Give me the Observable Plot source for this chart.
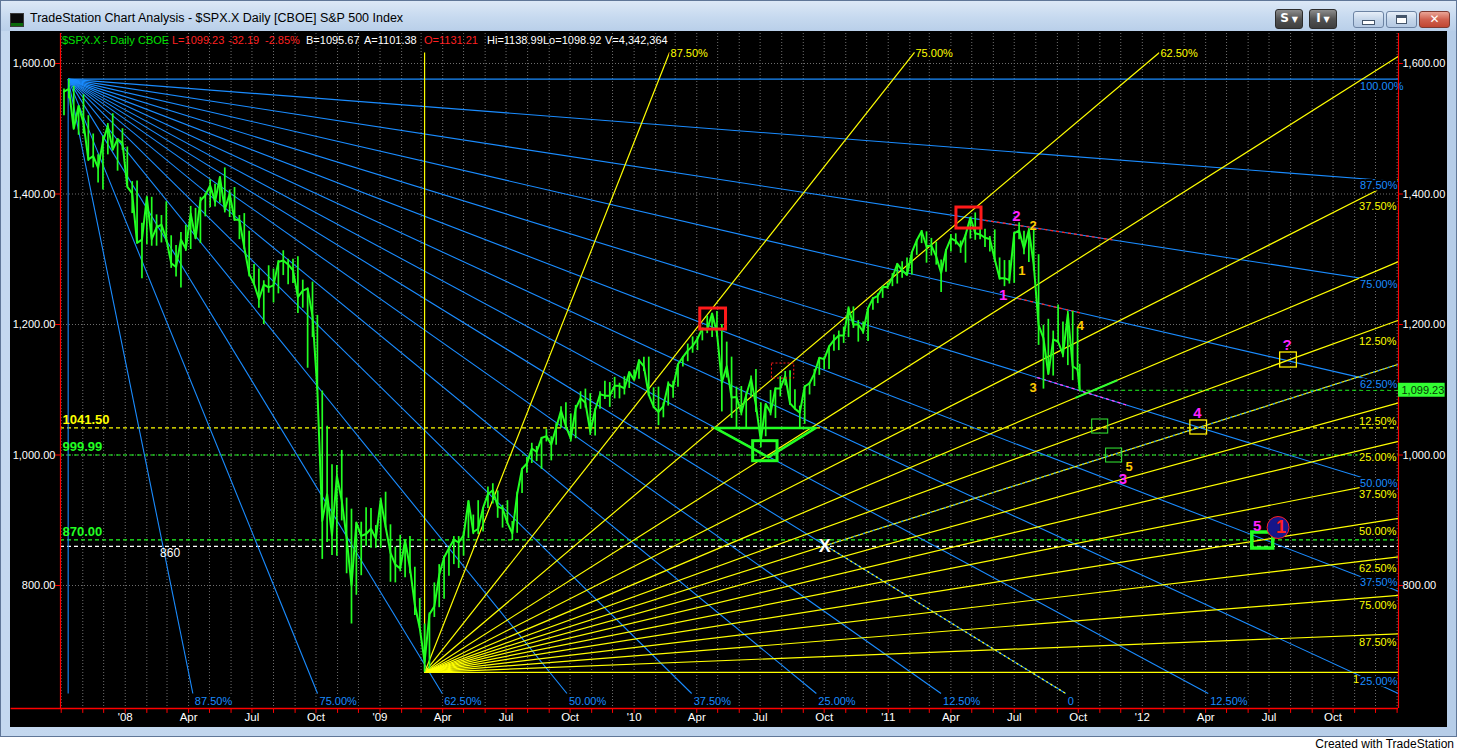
<!DOCTYPE html>
<html>
<head>
<meta charset="utf-8">
<script src="https://cdn.jsdelivr.net/npm/d3@7"></script>
<script src="https://cdn.jsdelivr.net/npm/@observablehq/plot@0.6"></script>
<style>
html,body{margin:0;padding:0;}
body{width:1457px;height:750px;background:#fff;overflow:hidden;position:relative;font-family:"Liberation Sans",Arial,sans-serif;}
#win{position:absolute;left:0;top:0;width:1457px;height:737px;background:linear-gradient(90deg,#c4d8ef,#b6cde8);box-sizing:border-box;border:1px solid #5f7697;}
#titlebar{position:absolute;left:0;top:0;width:1455px;height:30px;background:linear-gradient(#dce8f6,#c6d9ef 55%,#b9cfe9);}
#icon{position:absolute;left:9px;top:12px;width:12px;height:12px;background:#0b0b0b;border:1px solid #3a3a3a;box-shadow:inset 0 -3px 0 #0a6a0a;}
#title{position:absolute;left:29px;top:10px;font-size:12.5px;color:#000;white-space:nowrap;}
.btn{position:absolute;box-sizing:border-box;border-radius:3px;font-family:"DejaVu Sans",sans-serif;font-weight:bold;text-align:center;}
.dark{background:linear-gradient(#8c8c8c,#525252 50%,#3e3e3e);border:1px solid #2d2d2d;color:#fff;font-size:12px;line-height:17px;height:20px;top:8px;}
.light{background:linear-gradient(#e6eef8,#c5d6ea 50%,#b4c8e2);border:1px solid #6c83a3;height:17px;top:10px;width:31px;}
#close{position:absolute;left:1418px;top:10px;width:31px;height:17px;box-sizing:border-box;border-radius:3px;border:1px solid #7d3a32;background:linear-gradient(#eaa596,#d0614f 50%,#c04632);color:#fff;font:bold 12px "DejaVu Sans",sans-serif;line-height:15px;text-align:center;}
#chart{position:absolute;left:9px;top:30px;width:1437px;height:696px;background:#000;}
.hd{position:absolute;top:34px;font-size:11px;line-height:12px;white-space:nowrap;}
#credit{position:absolute;right:3px;top:737px;font-size:12px;color:#000;}
</style>
</head>
<body>
<div id="win">
  <div id="titlebar">
    <div id="icon"></div>
    <div id="title">TradeStation Chart Analysis - $SPX.X Daily [CBOE] S&amp;P 500 Index</div>
    <div class="btn dark" style="left:1274px;width:28px;">S<span style="font-size:8px;"> ▼</span></div>
    <div class="btn dark" style="left:1308px;width:28px;">I<span style="font-size:8px;"> ▼</span></div>
    <div class="btn light" style="left:1352px;"><div style="margin:8px auto 0;width:11px;height:3px;background:#fff;border:1px solid #44556b;"></div></div>
    <div class="btn light" style="left:1385px;"><div style="margin:3px auto 0;width:9px;height:7px;border:1px solid #44556b;background:#fff;box-shadow:inset 0 2px 0 #44556b;"></div></div>
    <div id="close">✕</div>
  </div>
  <div id="chart"></div>
</div>
<div id="hdr"></div>
<div id="credit">Created with TradeStation</div>
<script>
// ---------------- data ----------------
// weekly S&P 500 bars (Friday of each week, last bar 2011-10-03)
const closes = [1557,1561,1500,1535,1509,1453,1458,1440,1481,1504,1468,1484,1478,
1411,1401,1325,1330,1395,1331,1349,1353,1331,1294,1288,1330,1316,1370,1332,1390,1398,1413,1388,1426,1376,1400,1361,1360,1318,1278,1262,1239,1261,1257,1260,1296,1298,1292,1283,1242,1252,1255,1213,1099,899,940,877,968,930,873,800,896,876,879,887,872,
931,890,850,832,826,869,827,770,735,683,756,768,816,843,857,870,866,877,929,882,887,919,940,946,921,918,896,880,940,979,987,1010,1005,1026,1029,1016,1042,1068,1044,1025,1071,1087,1080,1036,1069,1093,1091,1091,1106,1106,1102,1127,1115,
1145,1136,1092,1074,1066,1075,1109,1104,1139,1150,1160,1167,1178,1194,1192,1217,1187,1111,1136,1088,1089,1065,1092,1117,1076,1022,1078,1065,1102,1102,1121,1079,1071,1065,1105,1110,1125,1149,1147,1166,1176,1183,1183,1225,1200,1200,1189,1225,1240,1244,1257,1258,
1272,1293,1283,1276,1311,1329,1343,1320,1321,1304,1279,1314,1332,1328,1319,1337,1364,1340,1338,1333,1331,1300,1271,1271,1268,1340,1344,1316,1345,1292,1199,1179,1124,1177,1174,1154,1216,1136,1131,1099.23];
const highs = [1561,1576,1565,1535,1552,1520,1492,1460,1488,1508,1523,1485,1500,
1472,1419,1420,1355,1396,1395,1368,1367,1388,1336,1321,1341,1352,1381,1378,1395,1400,1422,1415,1426,1440,1406,1410,1367,1370,1343,1292,1285,1267,1290,1285,1298,1313,1300,1300,1304,1268,1256,1265,1214,1098,1044,985,984,1007,934,917,897,897,919,918,892,
934,943,893,859,877,870,875,828,780,741,758,804,832,845,858,875,875,882,930,908,930,919,951,956,945,923,930,898,943,979,996,1018,1013,1027,1039,1028,1048,1074,1080,1063,1076,1097,1101,1094,1071,1097,1113,1111,1119,1110,1120,1127,1130,
1146,1150,1150,1103,1104,1080,1112,1113,1139,1151,1170,1181,1181,1194,1213,1217,1220,1200,1173,1150,1104,1105,1094,1121,1131,1080,1078,1099,1103,1120,1128,1129,1100,1075,1106,1111,1131,1149,1150,1167,1184,1190,1196,1227,1227,1206,1204,1225,1241,1247,1259,1263,
1278,1293,1296,1302,1311,1330,1344,1342,1332,1326,1299,1315,1338,1339,1328,1338,1364,1371,1346,1346,1335,1345,1302,1298,1298,1341,1356,1343,1347,1347,1307,1199,1208,1190,1230,1204,1220,1220,1195,1138.99];
const lows = [1520,1546,1500,1490,1492,1450,1440,1417,1406,1460,1466,1435,1467,
1411,1370,1325,1270,1322,1320,1320,1325,1326,1286,1273,1256,1312,1315,1331,1324,1365,1379,1380,1386,1371,1364,1358,1330,1315,1273,1260,1225,1200,1248,1233,1247,1275,1261,1263,1217,1225,1133,1180,1099,840,866,846,845,899,818,741,785,815,860,857,857,
857,888,805,804,821,812,818,754,734,667,672,751,766,779,814,832,826,845,872,878,878,882,918,925,903,888,894,869,880,941,972,987,990,978,1020,991,1015,1041,1041,1020,1025,1070,1072,1030,1029,1070,1085,1073,1086,1086,1092,1102,1115,
1116,1128,1090,1071,1045,1057,1075,1087,1104,1135,1143,1156,1160,1175,1186,1180,1181,1066,1118,1056,1040,1060,1042,1088,1065,1011,1028,1060,1056,1089,1106,1076,1069,1040,1047,1092,1105,1122,1131,1131,1159,1160,1171,1180,1194,1173,1185,1174,1222,1232,1240,1254,
1258,1262,1271,1275,1276,1306,1324,1294,1305,1291,1249,1280,1311,1322,1309,1294,1331,1329,1330,1318,1311,1295,1268,1258,1262,1263,1330,1307,1295,1282,1168,1101,1124,1121,1171,1149,1137,1114,1128,1098.92];
const lastDate = "2011-10-03", lastPrice = 1099.23;

// axis ticks and labels
const priceTicks = [800, 1000, 1200, 1400, 1600];
const quarterDates = ["2008-01-01","2008-04-01","2008-07-01","2008-10-01","2009-01-01","2009-04-01","2009-07-01","2009-10-01","2010-01-01","2010-04-01","2010-07-01","2010-10-01","2011-01-01","2011-04-01","2011-07-01","2011-10-01","2012-01-01","2012-04-01","2012-07-01","2012-10-01"];
const quarterLabels = ["'08","Apr","Jul","Oct","'09","Apr","Jul","Oct","'10","Apr","Jul","Oct","'11","Apr","Jul","Oct","'12","Apr","Jul","Oct"];

// Gann fans: origin, box corner, percentage levels
const fanLevels = [1, 0.875, 0.75, 0.625, 0.5, 0.375, 0.25, 0.125, 0];
const fanTexts = ["100.00%","87.50%","75.00%","62.50%","50.00%","37.50%","25.00%","12.50%","0"];
const blueOrigin = ["2007-10-11", 1576.09], blueCorner = ["2011-09-13", 634.5];
const yellowOrigin = ["2009-03-06", 666.79], yellowCorner = ["2016-11-19", 1617];
const fanLabelDate = "2012-11-06";

// horizontal levels
const levelValues = [1041.5, 999.99, 870, 860];
const levelColors = ["#ffff00", "#22ff22", "#22ff22", "#ffffff"];
const levelTexts = ["1041.50", "999.99", "870.00", ""];

// trendline overlays on fan lines
const ovFan =   ["blue","blue","blue","yellow","blue","yellow"];
const ovEdge =  ["right","right","right","top","right","top"];
const ovLevel = [0.75, 0.625, 0.5, 0.25, 0, 0];
const ovFrom =  ["2011-05-20","2011-07-07","2011-08-03","2011-09-27","2010-10-02","2010-10-02"];
const ovTo =    ["2011-11-20","2011-10-04","2011-12-10","2011-11-26","2011-09-13","2013-01-03"];
const ovColor = ["#ff2020","#ff2020","#ff40ff","#33ff33","#ffff00","#1a8cff"];
const ovDash =  ["3,3","3,3","3,3",null,"2,3","2,3"];
const ovWidth = [1.3,1.3,1.3,2,1.3,1.3];

// boxes
const boxFrom = ["2010-04-06","2010-07-18","2011-04-09","2010-06-21","2011-10-21","2011-11-10","2012-03-10","2012-07-17","2012-06-07"];
const boxTo =   ["2010-05-13","2010-08-19","2011-05-15","2010-07-26","2011-11-13","2011-12-03","2012-04-03","2012-08-10","2012-07-07"];
const boxLow =  [1192.3,1117.2,1347.1,990.5,1032.9,988.5,1031.4,1134.1,856.7];
const boxHigh = [1224.5,1140.2,1379.3,1021.2,1054.4,1009.9,1052.9,1157.1,881.2];
const boxColor = ["#ff1a1a","#ff1a1a","#ff1a1a","#22ff22","#33ee33","#33ee33","#ffee00","#ffee00","#22ff22"];
const boxWidth = [3,1,3,3,1,1,1.3,1.3,3.5];
const boxDash = [null,"2,2",null,null,null,null,null,null,null];

// head & shoulders neckline triangle
const triDates = ["2010-04-27","2010-09-19","2010-07-13","2010-04-27"];
const triPrices = [1041.5, 1041.5, 996.6, 1041.5];

// wave labels
const noteText  = ["2","2","1","1","4","3","?","4","5","3","5","X"];
const noteDate  = ["2011-07-04","2011-07-28","2011-07-12","2011-06-15","2011-10-04","2011-07-28","2012-07-27","2012-03-20","2011-12-13","2011-12-04","2012-06-14","2010-10-02"];
const notePrice = [1365.5,1351.7,1282.8,1244.4,1198.5,1103.4,1167.8,1063.6,982.4,962.5,890.4,859.8];
const noteColor = ["#ff22ff","#ffcc00","#ffcc00","#ff22ff","#ffcc00","#ffcc00","#ff22ff","#ff22ff","#ffcc00","#ff22ff","#ff22ff","#ffffff"];
const noteSize  = [15,13,13,15,13,13,15,15,13,15,15,18];
const circleDate = "2012-07-14", circlePrice = 888.9;

// header quote line
const hdrTexts = ["$SPX.X - Daily","CBOE","L=1099.23","-32.19","-2.85%","B=1095.67","A=1101.38","O=1131.21","Hi=1138.99","Lo=1098.92","V=4,342,364"];
const hdrLeft = [62,138,172,228,265,306,364,424,487,543,605];
const hdrColor = ["#00e000","#00e000","#ff2020","#ff2020","#ff2020","#fff","#fff","#ff2020","#fff","#fff","#fff"];

// ---------------- build ----------------
const hdr = document.getElementById("hdr");
hdrTexts.forEach((t, i) => {
  const s = document.createElement("span");
  s.className = "hd"; s.textContent = t;
  s.style.left = hdrLeft[i] + "px"; s.style.color = hdrColor[i];
  hdr.appendChild(s);
});

const BLUE = "#1a8cff", YEL = "#ffff00", PGREEN = "#22ff22";
const X0 = new Date("2007-09-30"), X1 = new Date("2013-01-03");
const P0 = 611.5, P1 = 1646;
const ms = s => new Date(s).getTime();
const D = t => new Date(t);

const weeks = d3.utcFriday.range(new Date("2007-10-05"), new Date("2011-10-01")).concat([new Date(lastDate)]);
const bars = weeks.map((d, i) => ({date: d, close: closes[i], high: highs[i], low: lows[i]}));

function extend(O, Tg, pLimit) {
  const dt = Tg.t - O.t, dp = Tg.p - O.p;
  let s = Infinity;
  if (dt > 0) s = Math.min(s, (X1.getTime() - O.t) / dt);
  if (dp !== 0) { const sp = (pLimit - O.p) / dp; if (sp > 0) s = Math.min(s, sp); }
  return {t1: O.t, p1: O.p, t2: O.t + s * dt, p2: O.p + s * dp};
}
const priceAt = (L, t) => L.p1 + (L.p2 - L.p1) * (t - L.t1) / (L.t2 - L.t1);

const bO = {t: ms(blueOrigin[0]), p: blueOrigin[1]}, bC = {t: ms(blueCorner[0]), p: blueCorner[1]};
const yO = {t: ms(yellowOrigin[0]), p: yellowOrigin[1]}, yC = {t: ms(yellowCorner[0]), p: yellowCorner[1]};
const blueLines = [], yellowLines = [];
fanLevels.forEach((l, i) => {
  blueLines.push({...extend(bO, {t: bC.t, p: bC.p + l * (bO.p - bC.p)}, bC.p), fan: "blue", edge: "right", level: l, text: fanTexts[i]});
  if (l > 0) blueLines.push({...extend(bO, {t: bC.t - l * (bC.t - bO.t), p: bC.p}, bC.p), fan: "blue", edge: "bottom", level: l, text: fanTexts[i]});
  yellowLines.push({...extend(yO, {t: yO.t + (1 - l) * (yC.t - yO.t), p: yC.p}, yC.p), fan: "yellow", edge: "top", level: l, text: fanTexts[i]});
  if (l > 0) yellowLines.push({...extend(yO, {t: yC.t, p: yO.p + (1 - l) * (yC.p - yO.p)}, yC.p), fan: "yellow", edge: "right", level: l, text: fanTexts[i]});
});
const LT = ms(fanLabelDate);
function labels(lines, skip) {
  const side = [], end = [];
  for (const L of lines) {
    if (skip(L)) continue;
    if (L.t2 >= LT) side.push({t: LT, p: priceAt(L, LT), text: L.text, edge: L.edge, level: L.level});
    else end.push({t: L.t2, p: L.p2, text: L.text, edge: L.edge, level: L.level});
  }
  return {side, end};
}
const blueLab = labels(blueLines, L => L.edge === "bottom" && L.level === 1);
// yellow labels hidden behind blue labels in the picture are left out
const yelLab = labels(yellowLines, L => L.edge === "top" && [1, 0, 0.5, 0.25].includes(L.level));
const yelSideMain = yelLab.side.filter(d => !(d.edge === "right" && d.level === 1));
// only the leading "1" of the yellow 100.00% label shows beside the blue 25.00% label
const yelSideStub = yelLab.side.filter(d => d.edge === "right" && d.level === 1).map(d => ({...d, text: d.text.slice(0, 1)}));

const allLines = blueLines.concat(yellowLines);
const overlays = ovFan.map((f, i) => {
  const L = allLines.find(q => q.fan === f && q.edge === ovEdge[i] && q.level === ovLevel[i]);
  const a = ms(ovFrom[i]), b = Math.min(ms(ovTo[i]), L.t2);
  return {t1: a, p1: priceAt(L, a), t2: b, p2: priceAt(L, b), color: ovColor[i], dash: ovDash[i], width: ovWidth[i]};
});

const months = d3.utcMonth.range(new Date("2007-10-01"), X1);
const fmt = d3.format(",.2f");

const marks = [
  // grid
  Plot.ruleX(months, {stroke: "#6e6e6e", strokeDasharray: "1,2"}),
  Plot.ruleY(priceTicks, {stroke: "#6e6e6e", strokeDasharray: "1,2"}),
  // horizontal level lines
  ...levelValues.map((v, i) => Plot.ruleY([v], {stroke: levelColors[i], strokeDasharray: "4,3", strokeWidth: 1.2})),
  // fans
  Plot.link(blueLines, {x1: d => D(d.t1), y1: "p1", x2: d => D(d.t2), y2: "p2", stroke: BLUE, strokeWidth: 1.1}),
  Plot.link(yellowLines, {x1: d => D(d.t1), y1: "p1", x2: d => D(d.t2), y2: "p2", stroke: YEL, strokeWidth: 1.2}),
  ...overlays.map(o => Plot.link([o], {x1: d => D(d.t1), y1: "p1", x2: d => D(d.t2), y2: "p2", stroke: o.color, strokeWidth: o.width, strokeDasharray: o.dash || undefined})),
  // price
  Plot.ruleX(bars, {x: "date", y1: "low", y2: "high", stroke: PGREEN, strokeWidth: 1.7}),
  Plot.line(bars, {x: "date", y: "close", stroke: PGREEN, strokeWidth: 2}),
  Plot.ruleY([lastPrice], {x1: () => new Date(lastDate), x2: () => X1, stroke: "#22ff22", strokeDasharray: "4,3", strokeWidth: 1.2}),
  // annotations
  ...boxFrom.map((f, i) => Plot.rect([i], {x1: () => new Date(f), x2: () => new Date(boxTo[i]), y1: () => boxLow[i], y2: () => boxHigh[i], fill: "none", stroke: boxColor[i], strokeWidth: boxWidth[i], strokeDasharray: boxDash[i] || undefined})),
  Plot.line(triDates.map((d, i) => ({d: new Date(d), p: triPrices[i]})), {x: "d", y: "p", stroke: "#22ff22", strokeWidth: 2.5}),
  Plot.dot([0], {x: () => new Date(circleDate), y: () => circlePrice, r: 11, fill: "#16168a", stroke: "#ff2020", strokeWidth: 1}),
  Plot.text([0], {x: () => new Date(circleDate), y: () => circlePrice, text: () => "1", fill: "#ff2020", fontSize: 18, fontWeight: "bold", dx: 3}),
  ...noteText.map((t, i) => Plot.text([i], {x: () => new Date(noteDate[i]), y: () => notePrice[i], text: () => t, fill: noteColor[i], fontSize: noteSize[i], fontWeight: "bold"})),
  // fan labels (yellow beneath blue)
  Plot.text(yelSideMain, {x: d => D(d.t), y: "p", text: "text", fill: YEL, stroke: "black", strokeWidth: 4, textAnchor: "start", dx: 1, dy: 7}),
  Plot.text(yelSideStub, {x: d => D(d.t), y: "p", text: "text", fill: YEL, textAnchor: "start", dx: -5, dy: 7}),
  Plot.text(yelLab.end, {x: d => D(d.t), y: "p", text: "text", fill: YEL, stroke: "black", strokeWidth: 4, textAnchor: "start", dx: 1, dy: 1}),
  Plot.text(blueLab.side, {x: d => D(d.t), y: "p", text: "text", fill: BLUE, stroke: "black", strokeWidth: 4, textAnchor: "start", dx: 2, dy: 7}),
  Plot.text(blueLab.end, {x: d => D(d.t), y: "p", text: "text", fill: BLUE, stroke: "black", strokeWidth: 4, textAnchor: "start", dx: 2, dy: 8}),
  // level labels
  ...levelValues.map((v, i) => Plot.text([v], {y: d => d, frameAnchor: "left", text: () => levelTexts[i], fill: levelColors[i], fontSize: 13, fontWeight: "bold", textAnchor: "start", dx: 2, dy: -8})),
  Plot.text([860], {x: () => new Date("2008-02-20"), y: d => d, text: () => "860", fill: "#fff", fontSize: 12, textAnchor: "start", dy: 7}),
  // axis frame
  Plot.ruleX([X0, X1], {stroke: "#ff0000", strokeWidth: 1.2}),
  Plot.ruleY([P0], {x1: () => new Date("2007-07-21"), x2: () => X1, stroke: "#ff0000", strokeWidth: 1.5}),
  Plot.ruleX(months, {y1: P0, y2: 604, stroke: "#ff0000"}),
  Plot.ruleY(priceTicks, {x1: () => new Date("2007-09-23"), x2: () => X0, stroke: "#ff0000"}),
  Plot.ruleY(priceTicks, {x1: () => X1, x2: () => new Date("2013-01-10"), stroke: "#ff0000"}),
  Plot.text(quarterDates, {x: d => new Date(d), frameAnchor: "bottom", text: (d, i) => quarterLabels[i], fill: "#fff", fontSize: 11.5, dy: 12}),
  Plot.text(priceTicks, {y: d => d, frameAnchor: "left", text: d => fmt(d), fill: "#fff", fontSize: 11, textAnchor: "end", dx: -5}),
  Plot.text(priceTicks, {y: d => d, frameAnchor: "right", text: d => fmt(d), fill: "#fff", fontSize: 11, textAnchor: "start", dx: 4}),
  Plot.rect([lastPrice], {x1: () => X1, x2: () => new Date("2013-03-11"), y1: d => d - 10.7, y2: d => d + 10.7, fill: "#33ff33"}),
  Plot.text([lastPrice], {y: d => d, frameAnchor: "right", text: d => fmt(d), fill: "#063806", fontSize: 11, textAnchor: "start", dx: 3})
];

const chart = Plot.plot({
  width: 1437, height: 696,
  marginLeft: 50, marginRight: 49, marginTop: 2, marginBottom: 19,
  x: {type: "utc", domain: [X0, X1], axis: null},
  y: {domain: [P0, P1], axis: null},
  style: {background: "#000", color: "#fff", fontFamily: "Liberation Sans, Arial, sans-serif", fontSize: "11px", overflow: "visible"},
  marks
});
document.getElementById("chart").appendChild(chart);
</script>
</body>
</html>
